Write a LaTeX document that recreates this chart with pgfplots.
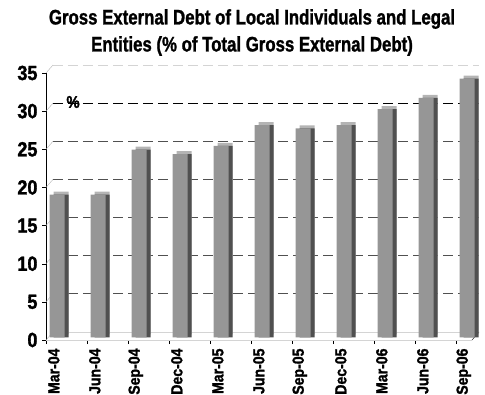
\documentclass[border=0pt]{standalone}
\usepackage{pgfplots}
\pgfplotsset{compat=1.18}
\usepackage{pgfplotstable}
\usepackage{fontspec}
\setmainfont{Liberation Sans}
\newfontfamily\titlefont{Liberation Sans}[FakeStretch=0.80, FakeBold=1.2]
\newfontfamily\tickfont{Liberation Sans}[FakeStretch=0.88, FakeBold=1.5]
\definecolor{barfront}{HTML}{969696}
\definecolor{barside}{HTML}{505050}
\definecolor{bartop}{HTML}{B4B4B4}
\definecolor{griddark}{HTML}{505050}
\definecolor{gridlight}{HTML}{D4D4D4}

\pgfplotstableread{
x v
0 18.7
1 18.7
2 24.6
3 24.0
4 25.1
5 27.8
6 27.4
7 27.8
8 29.9
9 31.4
10 33.9
}\debtdata

\begin{document}
\begin{tikzpicture}[x=1pt,y=1pt]
\path[use as bounding box] (-46,-54) rectangle (439,340);
\begin{axis}[
  at={(0,0)}, anchor=south west, scale only axis,
  width=426pt, height=267pt,
  xmin=-0.27, xmax=10.12, ymin=0, ymax=35, clip=false,
  axis x line*=bottom, axis y line*=left,
  axis line style={-, black},
  tick align=outside, major tick length=4pt,
  tick style={black},
  ytick={0,5,...,35},
  /pgf/number format/assume math mode=true,
  yticklabel style={font=\tickfont\bfseries\fontsize{20.5}{20.5}\selectfont, xshift=-1pt},
  xtick={-0.27,0.73,1.73,2.73,3.73,4.73,5.73,6.73,7.73,8.73,9.73},
  xticklabels={},
  extra x ticks={-0.08,0.92,1.92,2.92,3.92,4.92,5.92,6.92,7.92,8.92,9.92},
  extra x tick labels={Mar-04,Jun-04,Sep-04,Dec-04,Mar-05,Jun-05,Sep-05,Dec-05,Mar-06,Jun-06,Sep-06},
  extra x tick style={major tick length=0pt,
    xticklabel style={rotate=90, anchor=east, xshift=-5pt,
      font=\tickfont\bfseries\fontsize{16}{16}\selectfont}},
]
% back-wall gridlines
\addplot[gridlight, line width=0.8pt] coordinates {(-0.27,0) (10.12,0)};
\addplot[griddark, line width=0.8pt, dash pattern=on 10pt off 5pt, xshift=7pt, yshift=8pt] coordinates {(-0.27,5) (10.12,5)};
\addplot[griddark, line width=0.8pt, dash pattern=on 10pt off 5pt, xshift=7pt, yshift=8pt] coordinates {(-0.27,10) (10.12,10)};
\addplot[griddark, line width=0.8pt, dash pattern=on 10pt off 5pt, xshift=7pt, yshift=8pt] coordinates {(-0.27,15) (10.12,15)};
\addplot[griddark, line width=0.8pt, dash pattern=on 10pt off 5pt, xshift=7pt, yshift=8pt] coordinates {(-0.27,20) (10.12,20)};
\addplot[griddark, line width=0.8pt, dash pattern=on 10pt off 5pt, xshift=7pt, yshift=8pt] coordinates {(-0.27,25) (10.12,25)};
\addplot[black, line width=0.8pt, dash pattern=on 10pt off 5pt, xshift=7pt, yshift=8pt] coordinates {(-0.27,30) (10.12,30)};
\addplot[gridlight, line width=0.8pt, dash pattern=on 10pt off 5pt, xshift=7pt, yshift=8pt] coordinates {(-0.27,35) (10.12,35)};
\addplot[gridlight, line width=0.8pt, xshift=7pt, yshift=8pt] coordinates {(-0.27,0) (10.12,0)};
% wall edges at the y ticks
\pgfplotsinvokeforeach{0,5,10,15,20,25,30,35}{
  \draw[gray!60] (axis cs:-0.27,#1) -- ++(7pt,8pt);
}
\draw[black] (axis cs:10.12,0) -- ++(7pt,8pt);
% 3D-looking bars
\addplot[ybar, bar width=15pt, bar shift=4pt, yshift=5.7pt, fill=bartop, draw=none] table[x=x,y=v]{\debtdata};
\addplot[ybar, bar width=15pt, bar shift=4pt, yshift=2.7pt, fill=barside, draw=none] table[x=x,y=v]{\debtdata};
\addplot[ybar, bar width=15pt, bar shift=0pt, yshift=2.7pt, fill=barfront, draw=none] table[x=x,y=v]{\debtdata};
\node[font=\tickfont\bfseries\fontsize{17}{17}\selectfont, inner sep=1pt] at (axis cs:0.39,31.2) {\%};
\end{axis}
\node[align=center, font=\titlefont\bfseries\fontsize{21}{27}\selectfont] at (206,307.5)
  {Gross External Debt of Local Individuals and Legal\\Entities (\% of Total Gross External Debt)};
\end{tikzpicture}
\end{document}
